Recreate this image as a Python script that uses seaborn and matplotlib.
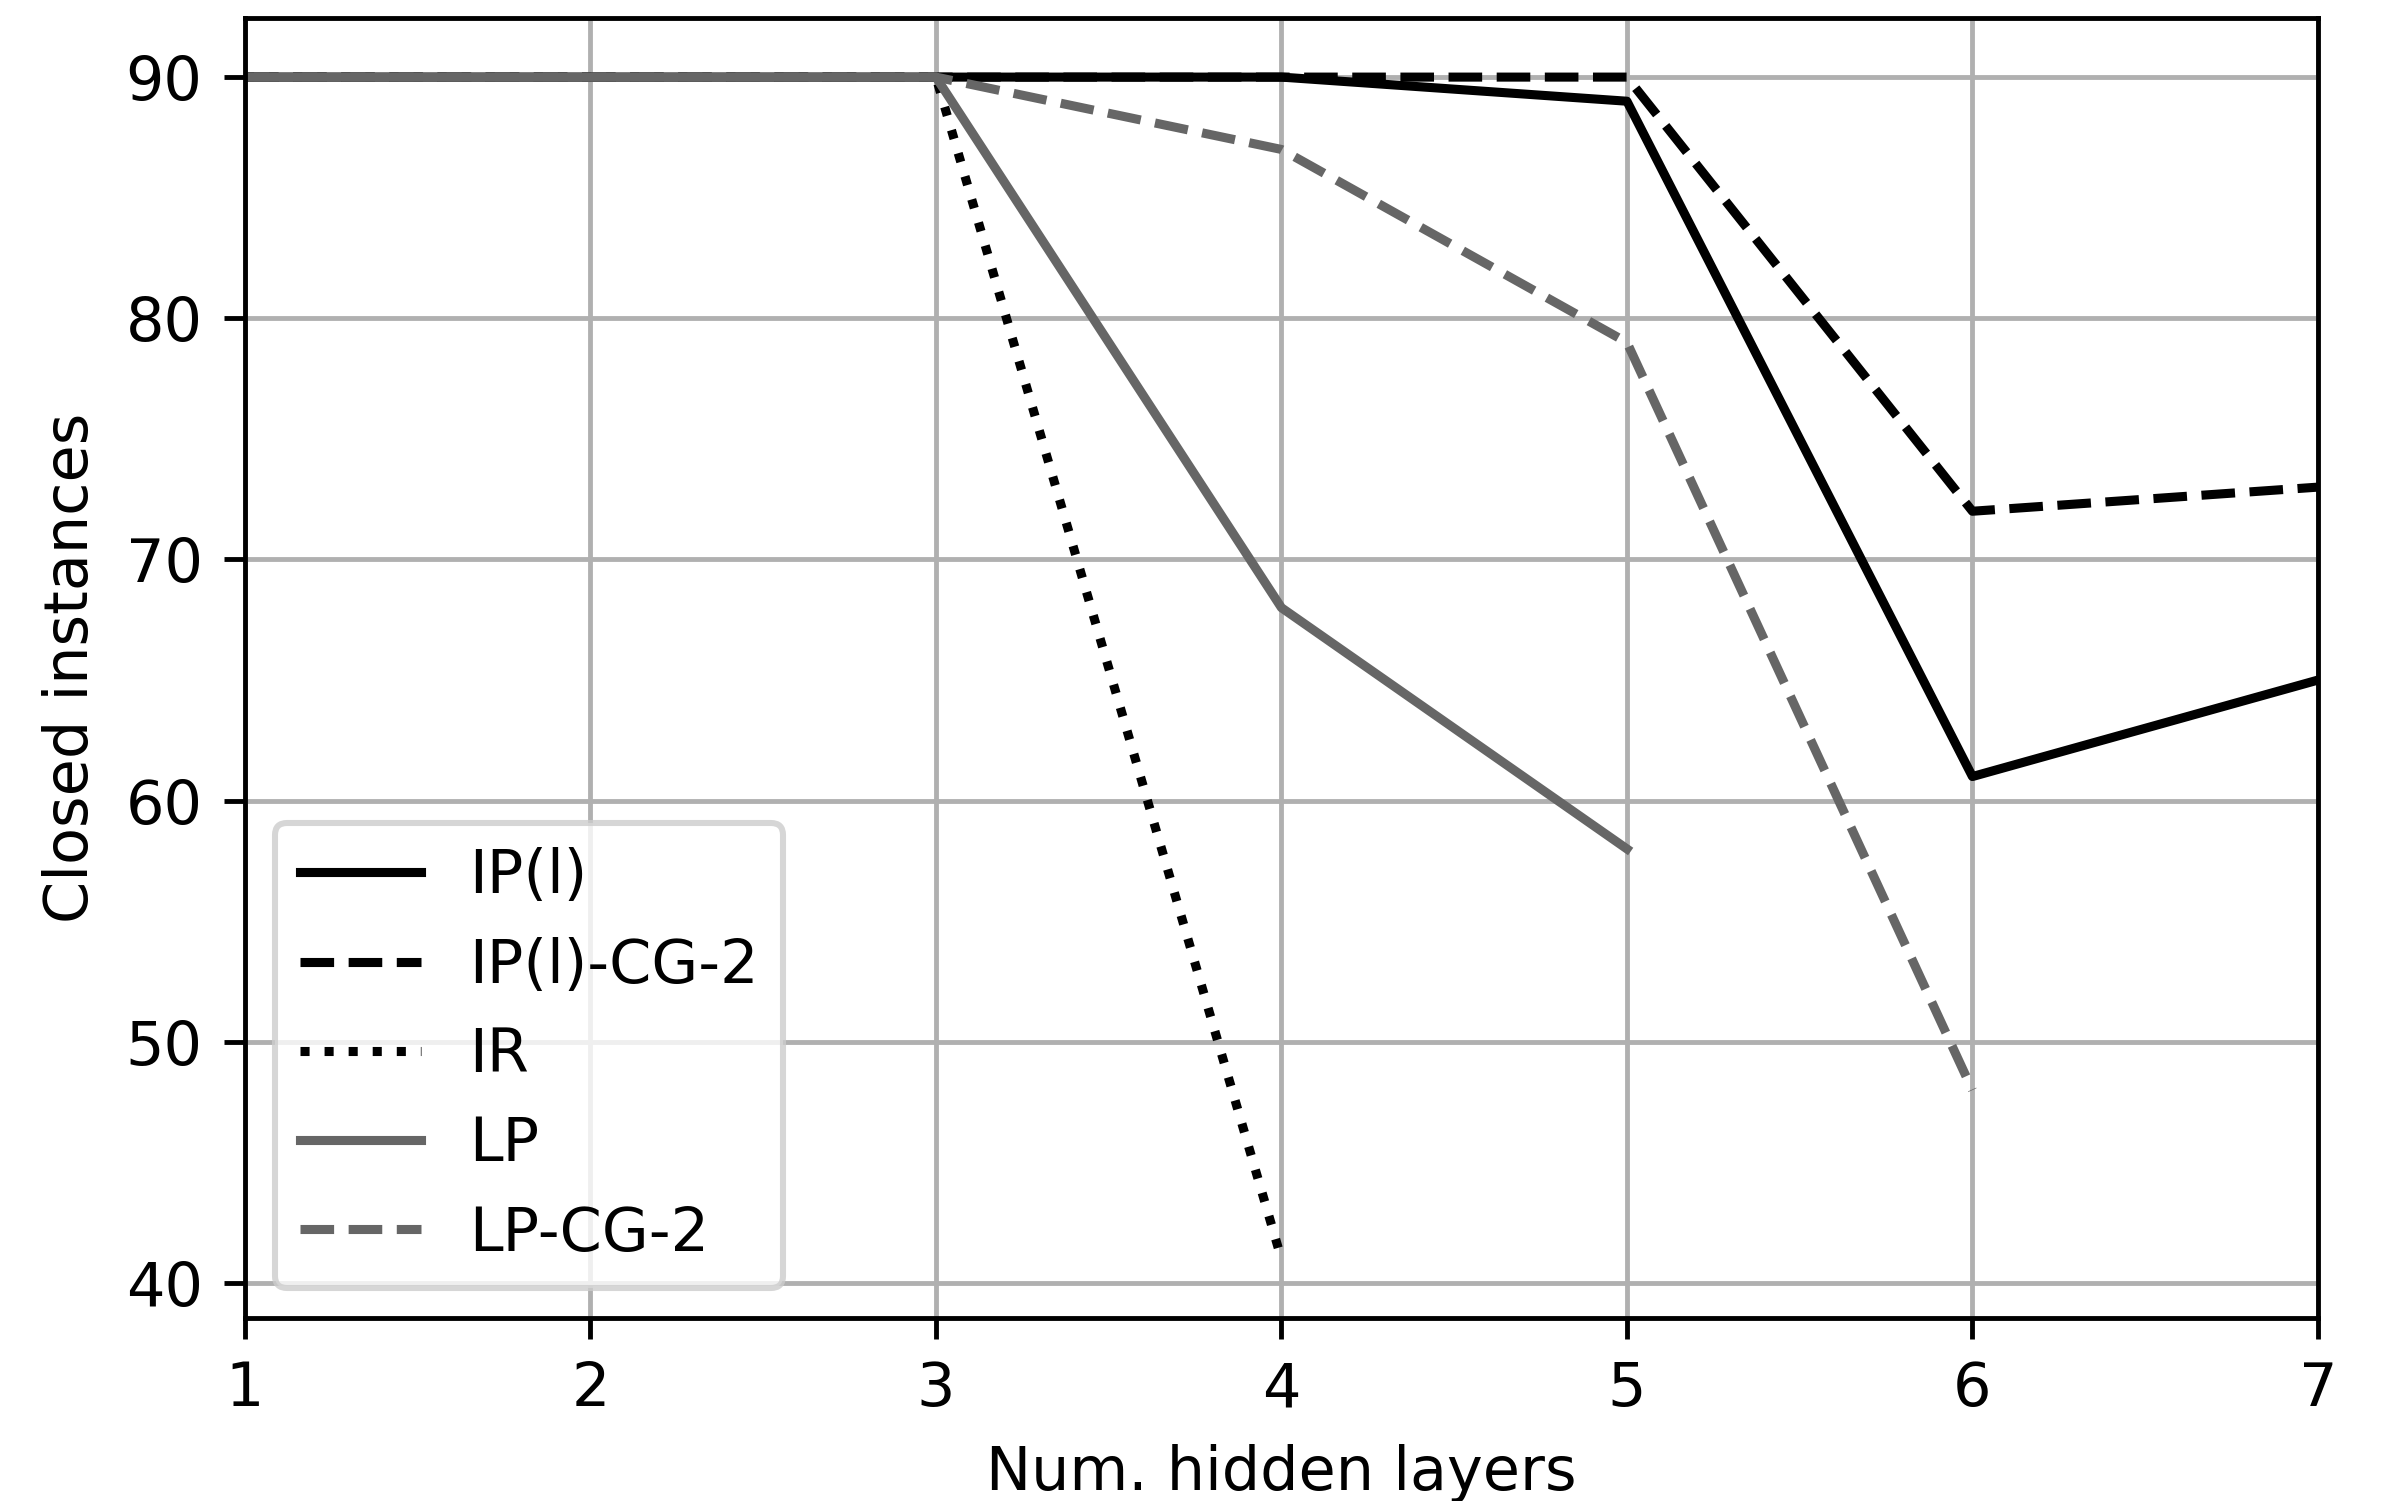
import numpy as np
import pandas as pd
import matplotlib
matplotlib.use("Agg")
import matplotlib.pyplot as plt
import seaborn as sns

# Closed instances per number of hidden layers for each method
layers = [1, 2, 3, 4, 5, 6, 7]
ip_l = [90, 90, 90, 90, 89, 61, 65]
ip_l_cg2 = [90, 90, 90, 90, 90, 72, 73]
ir = [90, 90, 90, 41, np.nan, np.nan, np.nan]
lp = [90, 90, 90, 68, 58, np.nan, np.nan]
lp_cg2 = [90, 90, 90, 87, 79, 48, np.nan]

method_names = ["IP(l)", "IP(l)-CG-2", "IR", "LP", "LP-CG-2"]
method_values = [ip_l, ip_l_cg2, ir, lp, lp_cg2]
method_colors = ["black", "black", "black", "#666666", "#666666"]
method_styles = ["-", "--", ":", "-", "--"]

plt.rcParams["font.family"] = ["DejaVu Sans"]

fig, ax = plt.subplots(figsize=(2381 / 436, 1501 / 436), dpi=436)
fig.subplots_adjust(left=0.1029, right=0.9735, top=0.988, bottom=0.1219)

for name, vals, col, ls in zip(method_names, method_values, method_colors, method_styles):
    df = pd.DataFrame({"layers": layers, "closed": vals}).dropna()
    sns.lineplot(data=df, x="layers", y="closed", ax=ax, color=col,
                 linestyle=ls, linewidth=1.5, label=name)

ax.set_xlim(1, 7)
ax.set_xticks(layers)
ax.set_yticks([40, 50, 60, 70, 80, 90])
ax.grid(True, color="#b0b0b0", linewidth=0.8)
ax.set_xlabel("Num. hidden layers")
ax.set_ylabel("Closed instances")
ax.legend(loc="lower left")

fig.savefig("out.png", dpi=436)
